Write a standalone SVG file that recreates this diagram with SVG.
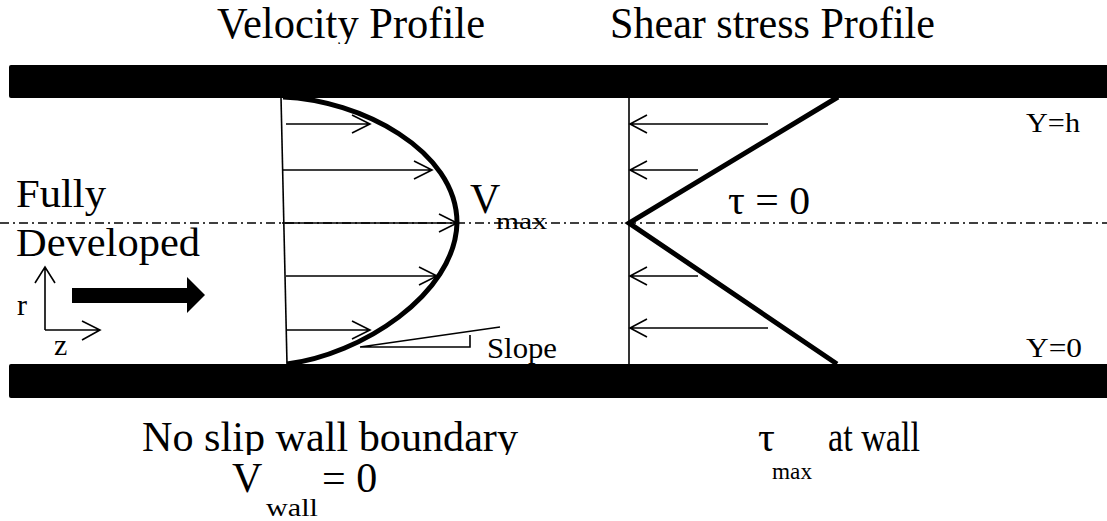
<svg xmlns="http://www.w3.org/2000/svg" width="1107" height="521" viewBox="0 0 1107 521">
<style>
text{font-family:"Liberation Serif","Times New Roman","DejaVu Serif",serif;fill:#000}
.thin{stroke:#000;stroke-width:1.6;fill:none}
.thick{stroke:#000;stroke-width:5;fill:none}
.center{stroke:#000;stroke-width:1.5;fill:none;stroke-dasharray:9 4 2 4}
</style>
<defs>
<clipPath id="clipTop"><rect x="0" y="0" width="1107" height="44"/></clipPath>
<clipPath id="clipBot"><rect x="0" y="400" width="1107" height="55"/></clipPath>
</defs>
<rect width="1107" height="521" fill="#fff"/>
<g id="titles" font-family="Liberation Serif, serif">
<text x="217" y="38" font-size="44" textLength="268" lengthAdjust="spacingAndGlyphs" clip-path="url(#clipTop)">Velocity Profile</text>
<text x="610" y="38" font-size="44" textLength="325" lengthAdjust="spacingAndGlyphs">Shear stress Profile</text>
</g>
<g id="centerline"><line class="center" x1="0" y1="223" x2="1107" y2="223"/></g>
<g id="flow-label" font-family="Liberation Serif, serif">
<text x="16" y="207" font-size="40" textLength="90" lengthAdjust="spacingAndGlyphs">Fully</text>
<text x="16" y="256" font-size="40" textLength="184" lengthAdjust="spacingAndGlyphs">Developed</text>
<path d="M72 288 H187 V277 L205 295 L187 313 V303 H72 Z" fill="#000"/>
</g>
<g id="axes" font-family="Liberation Serif, serif">
<path class="thin" d="M45 330 V267 M35 283 L45 267 L55 283 M45 330 H100 M82 321 L100 330 L82 340"/>
<text x="17" y="315" font-size="30">r</text>
<text x="54" y="355" font-size="30">z</text>
</g>
<g id="velocity-profile" font-family="Liberation Serif, serif">
<path class="thin" d="M281 97 L287 364"/>
<path class="thick" d="M283 97 C360 100 457 150 457 223 C455 295 360 355 287 364"/>
<g class="thin">
<path d="M286 124 H369 M352 115 L370 124 L352 133"/>
<path d="M282 170 H431 M414 161 L432 170 L414 179"/>
<path d="M282 223 H456 M439 214 L457 223 L439 232"/>
<path d="M286 276 H436 M419 267 L437 276 L419 285"/>
<path d="M286 330 H369 M352 321 L370 330 L352 339"/>
</g>
<path class="thin" d="M360 347 L500 327 M360 347 H470 V335"/>
<text x="487" y="358" font-size="30" textLength="70" lengthAdjust="spacingAndGlyphs">Slope</text>
<text x="470" y="213" font-size="42">V</text>
<text x="496" y="229" font-size="24" textLength="51" lengthAdjust="spacingAndGlyphs">max</text>
</g>
<g id="shear-profile" font-family="Liberation Serif, serif">
<path class="thin" d="M629 97 V364"/>
<path class="thick" d="M838 97 L629 223 L837 364"/>
<g class="thin">
<path d="M768 124 H630 M647 115 L630 124 L647 133"/>
<path d="M698 170 H630 M647 161 L630 170 L647 179"/>
<path d="M698 276 H630 M647 267 L630 276 L647 285"/>
<path d="M768 328 H630 M647 319 L630 328 L647 337"/>
</g>
<text x="728" y="214" font-size="40" textLength="82" lengthAdjust="spacingAndGlyphs">τ = 0</text>
<text x="1026" y="132" font-size="28" textLength="54" lengthAdjust="spacingAndGlyphs">Y=h</text>
<text x="1026" y="357" font-size="28" textLength="56" lengthAdjust="spacingAndGlyphs">Y=0</text>
</g>
<g id="walls">
<rect x="9" y="65" width="1110" height="33" rx="2" fill="#000"/>
<rect x="9" y="364" width="1110" height="34" rx="2" fill="#000"/>
</g>
<g id="bottom-labels" font-family="Liberation Serif, serif">
<text x="142" y="451" font-size="42" textLength="376" lengthAdjust="spacingAndGlyphs" clip-path="url(#clipBot)">No slip wall boundary</text>
<text x="232" y="492" font-size="42">V</text>
<text x="266" y="516" font-size="26" textLength="52" lengthAdjust="spacingAndGlyphs">wall</text>
<text x="322" y="492" font-size="42">= 0</text>
<text x="758" y="451" font-size="42">τ</text>
<text x="772" y="479" font-size="24" textLength="40" lengthAdjust="spacingAndGlyphs">max</text>
<text x="828" y="451" font-size="42" textLength="92" lengthAdjust="spacingAndGlyphs">at wall</text>
</g>
</svg>
